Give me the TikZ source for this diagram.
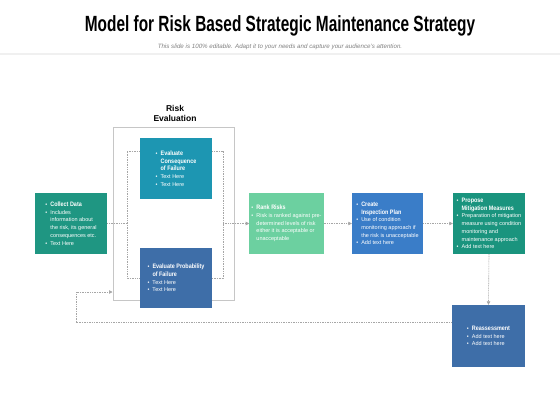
\documentclass[tikz,border=0pt]{standalone}
\usepackage{fontspec}
\setmainfont{Liberation Sans}
\newfontfamily\titlefont[FakeStretch=0.7]{Liberation Sans}
\newfontfamily\headfont[FakeStretch=0.85]{Liberation Sans}
\usetikzlibrary{arrows.meta}

\definecolor{cdata}{RGB}{31,150,130}
\definecolor{cons}{RGB}{29,150,178}
\definecolor{prob}{RGB}{62,110,168}
\definecolor{rank}{RGB}{108,208,160}
\definecolor{insp}{RGB}{58,125,200}
\definecolor{mitig}{RGB}{26,148,126}

\newcommand{\bl}{\makebox[5pt][l]{\textbullet}}
\newcommand{\ind}{\hspace*{5pt}}
\newcommand{\head}[1]{{\headfont\bfseries\fontsize{6.4}{7.7}\selectfont #1}}

\begin{document}
\begin{tikzpicture}[
  x=1pt, y=-1pt,
  every node/.style={font=\fontsize{5.5}{7.7}\selectfont},
  stepbox/.style={
    rectangle, draw=none, text=white, align=left,
    inner sep=2pt, minimum width=72, minimum height=61
  },
  evalframe/.style={
    rectangle, draw=gray!45, line width=1pt,
    minimum width=121, minimum height=173
  },
  conn/.style={
    gray!70, line width=0.6pt, dash pattern=on 1pt off 0.7pt
  },
  connarrow/.style={
    conn, -{Triangle[length=3.5pt,width=3.5pt]}
  },
]
\useasboundingbox (0,0) rectangle (560,420);

% --- Title ---
\node[font=\titlefont\bfseries\fontsize{22}{24}\selectfont, anchor=base] (title) at (280,32)
  {Model for Risk Based Strategic Maintenance Strategy};
\node[font=\itshape\fontsize{6.2}{7}\selectfont, text=gray, anchor=base] (subtitle) at (280,49)
  {This slide is 100\% editable. Adapt it to your needs and capture your audience's attention.};
\fill[gray!12] (0,53.5) rectangle (560,55);

% --- Nodes ---
\node[evalframe] (frame) at (173.5,213.5) {};
\node[font=\bfseries\fontsize{8.5}{10}\selectfont, align=center] (evallabel) at (175,113)
  {Risk\\Evaluation};

\node[stepbox, fill=cdata] (collect) at (71,223.5)
  {\bl\head{Collect Data}\\
   \bl Includes\\
   \ind information about\\
   \ind the risk, its general\\
   \ind consequences etc.\\
   \bl Text Here};

\node[stepbox, fill=cons] (consequence) at (176,168.5)
  {\bl\head{Evaluate}\\
   \ind\head{Consequence}\\
   \ind\head{of Failure}\\
   \bl Text Here\\
   \bl Text Here};

\node[stepbox, fill=prob, minimum height=60] (probability) at (176,278)
  {\bl\head{Evaluate Probability}\\
   \ind\head{of Failure}\\
   \bl Text Here\\
   \bl Text Here};

\node[stepbox, fill=rank, minimum width=71] (rankrisk) at (286.5,223.5)
  {\bl\head{Rank Risks}\\
   \bl Risk is ranked against pre-\\
   \ind determined levels of risk\\
   \ind either it is acceptable or\\
   \ind unacceptable};

\node[stepbox, fill=insp, minimum width=71] (inspection) at (387.5,223.5)
  {\bl\head{Create}\\
   \ind\head{Inspection Plan}\\
   \bl Use of condition\\
   \ind monitoring approach if\\
   \ind the risk is unacceptable\\
   \bl Add text here};

\node[stepbox, fill=mitig] (mitigation) at (489,223.5)
  {\bl\head{Propose}\\
   \ind\head{Mitigation Measures}\\
   \bl Preparation of mitigation\\
   \ind measure using condition\\
   \ind monitoring and\\
   \ind maintenance approach\\
   \bl Add text here};

\node[stepbox, fill=prob, minimum width=73, minimum height=62] (reassess) at (488.5,336)
  {\bl\head{Reassessment}\\
   \bl Add text here\\
   \bl Add text here};

% --- Bracket coordinates ---
\coordinate (ltop) at (127,151);
\coordinate (lbot) at (127,278);
\coordinate (rtop) at (223,151);
\coordinate (rbot) at (223,278);
\coordinate (loop) at (76,292);

% --- Connectors ---
\draw[conn] (collect.east) -- (collect.east -| ltop);
\draw[conn] (consequence.west |- ltop) -- (ltop) -- (lbot) -- (probability.west);
\draw[conn] (consequence.east |- rtop) -- (rtop) -- (rbot) -- (probability.east);
\draw[connarrow] (rankrisk.west -| rtop) -- (rankrisk.west);
\draw[connarrow] (rankrisk.east) -- (inspection.west);
\draw[connarrow] (inspection.east) -- (mitigation.west);
\draw[connarrow] (mitigation.south) -- (reassess.north);
% feedback loop back into the evaluation frame
\draw[connarrow] ([yshift=14pt]reassess.west) -| (loop) -- (loop -| frame.west);

\end{tikzpicture}
\end{document}
